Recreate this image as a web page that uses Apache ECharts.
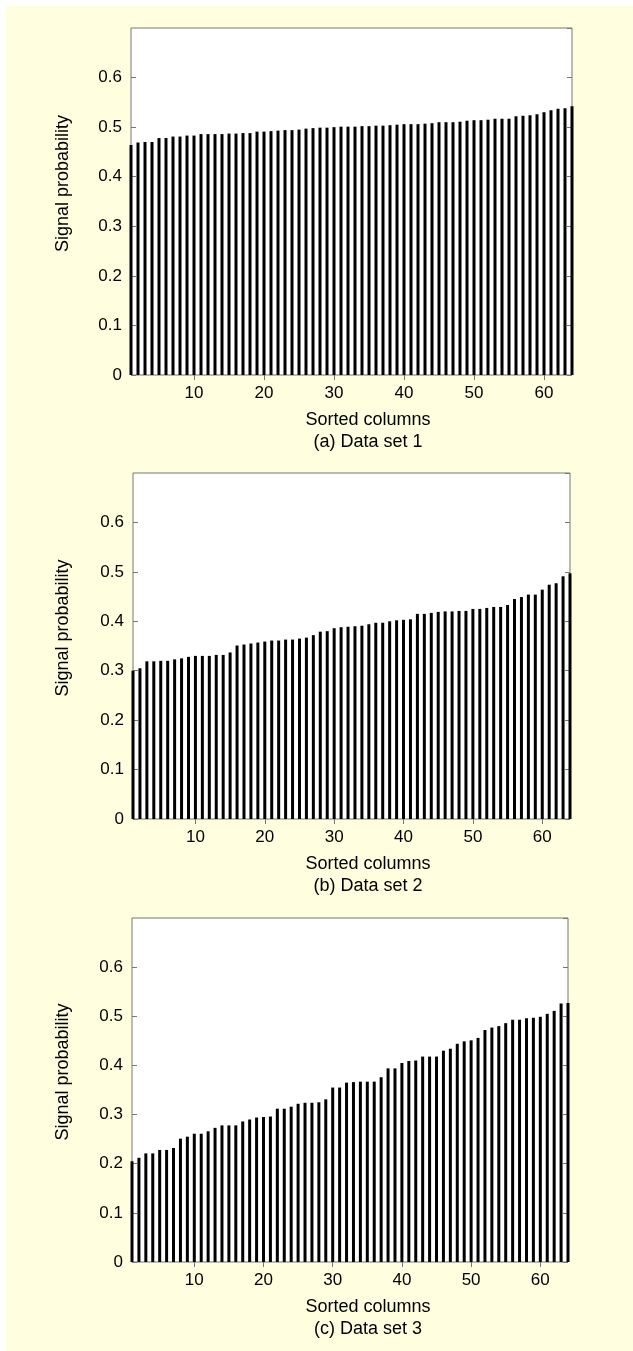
<!DOCTYPE html>
<html>
<head>
<meta charset="utf-8">
<script src="https://cdn.jsdelivr.net/npm/echarts@6/dist/echarts.min.js"></script>
<style>
  html, body { margin: 0; padding: 0; background: #ffffff; }
  #bg { position: absolute; left: 6px; top: 6px; right: 0; bottom: 0; background: #FFFFE0; }
  #chart { position: absolute; left: 0; top: 0; width: 633px; height: 1351px; }
</style>
</head>
<body>
<div id="bg"></div>
<div id="chart"></div>
<script>
// ---- data ----
const columns = [1,2,3,4,5,6,7,8,9,10,11,12,13,14,15,16,17,18,19,20,21,22,23,24,25,26,27,28,29,30,31,32,
  33,34,35,36,37,38,39,40,41,42,43,44,45,46,47,48,49,50,51,52,53,54,55,56,57,58,59,60,61,62,63,64];

const dataSet1 = [0.464,0.469,0.470,0.470,0.478,0.478,0.481,0.481,0.483,0.483,
  0.486,0.486,0.486,0.486,0.487,0.487,0.488,0.488,0.491,0.491,
  0.492,0.493,0.494,0.494,0.495,0.497,0.498,0.499,0.499,0.500,
  0.501,0.501,0.501,0.502,0.502,0.503,0.503,0.504,0.505,0.506,
  0.506,0.506,0.507,0.508,0.510,0.510,0.510,0.511,0.513,0.514,
  0.514,0.515,0.517,0.517,0.517,0.522,0.523,0.524,0.526,0.530,
  0.534,0.537,0.538,0.542];

const dataSet2 = [0.300,0.305,0.319,0.319,0.320,0.320,0.323,0.325,0.328,0.330,
  0.330,0.330,0.332,0.332,0.337,0.351,0.353,0.355,0.357,0.359,
  0.361,0.361,0.363,0.363,0.365,0.367,0.372,0.379,0.380,0.386,
  0.388,0.389,0.390,0.391,0.394,0.397,0.397,0.400,0.402,0.403,
  0.404,0.415,0.415,0.417,0.419,0.420,0.420,0.421,0.421,0.425,
  0.425,0.427,0.429,0.429,0.433,0.445,0.449,0.454,0.454,0.464,
  0.474,0.477,0.491,0.497];

const dataSet3 = [0.205,0.212,0.221,0.221,0.228,0.228,0.232,0.251,0.255,0.261,
  0.261,0.266,0.273,0.278,0.278,0.278,0.286,0.290,0.294,0.295,
  0.296,0.312,0.312,0.316,0.322,0.324,0.324,0.325,0.331,0.355,
  0.355,0.365,0.366,0.367,0.367,0.367,0.376,0.394,0.394,0.405,
  0.409,0.410,0.418,0.418,0.418,0.430,0.434,0.444,0.449,0.451,
  0.456,0.472,0.477,0.480,0.486,0.493,0.493,0.496,0.497,0.499,
  0.505,0.511,0.526,0.527];

const xTicks = [10, 20, 30, 40, 50, 60];
const yLabelText = 'Signal probability';
const xLabelText = 'Sorted columns';
const subtitles = ['(a) Data set 1', '(b) Data set 2', '(c) Data set 3'];
const allSets = [dataSet1, dataSet2, dataSet3];

// ---- layout ----
const FONT = '"Liberation Sans", Arial, Helvetica, sans-serif';
const AX = '#777777';
const grids = [
  { left: 131, top: 28, width: 441, height: 347 },
  { left: 133, top: 473, width: 437, height: 346 },
  { left: 132, top: 918, width: 436, height: 344 }
];

const option = {
  backgroundColor: 'transparent',
  animation: false,
  grid: [], xAxis: [], yAxis: [], series: [], graphic: []
};

grids.forEach((g, i) => {
  option.grid.push(Object.assign({ show: true, backgroundColor: '#ffffff', borderColor: AX, borderWidth: 1 }, g));
  const baseX = {
    type: 'value', gridIndex: i, min: 1, max: 64,
    axisLine: { show: false },
    splitLine: { show: false },
    axisTick: { show: true, inside: true, length: 5, customValues: xTicks, lineStyle: { color: AX } },
    axisLabel: { show: true, customValues: xTicks, color: '#000', fontSize: 17, fontFamily: FONT, margin: 10 }
  };
  option.xAxis.push(Object.assign({}, baseX, { position: 'bottom' }));
  option.xAxis.push(Object.assign({}, baseX, { position: 'top', axisLabel: { show: false } }));
  const baseY = {
    type: 'value', gridIndex: i, min: 0, max: 0.7, interval: 0.1,
    axisLine: { show: false },
    splitLine: { show: false },
    axisTick: { show: true, inside: true, length: 5, lineStyle: { color: AX } },
    axisLabel: {
      show: true, color: '#000', fontSize: 17, fontFamily: FONT, margin: 9,
      showMaxLabel: false,
      formatter: v => (v > 0.65 ? '' : (v === 0 ? '0' : v.toFixed(1)))
    }
  };
  option.yAxis.push(Object.assign({}, baseY, { position: 'left' }));
  option.yAxis.push(Object.assign({}, baseY, { position: 'right', axisLabel: { show: false } }));

  option.series.push({
    type: 'bar',
    xAxisIndex: 2 * i, yAxisIndex: 2 * i,
    data: columns.map((c, k) => [c, allSets[i][k]]),
    barWidth: 3,
    clip: true,
    silent: true,
    itemStyle: { color: '#000000' }
  });

  const bottom = g.top + g.height;
  const midY = g.top + g.height / 2;
  option.graphic.push({
    type: 'text', x: 63, y: midY - 18, rotation: Math.PI / 2,
    style: { text: yLabelText, font: '18px ' + FONT, fill: '#000', align: 'center', verticalAlign: 'middle' }
  });
  option.graphic.push({
    type: 'text', x: 368, y: bottom + 45,
    style: { text: xLabelText, font: '18px ' + FONT, fill: '#000', align: 'center', verticalAlign: 'middle' }
  });
  option.graphic.push({
    type: 'text', x: 368, y: bottom + 67,
    style: { text: subtitles[i], font: '18px ' + FONT, fill: '#000', align: 'center', verticalAlign: 'middle' }
  });
});

const chart = echarts.init(document.getElementById('chart'), null, { renderer: 'canvas', width: 633, height: 1351 });
chart.setOption(option);
</script>
</body>
</html>
